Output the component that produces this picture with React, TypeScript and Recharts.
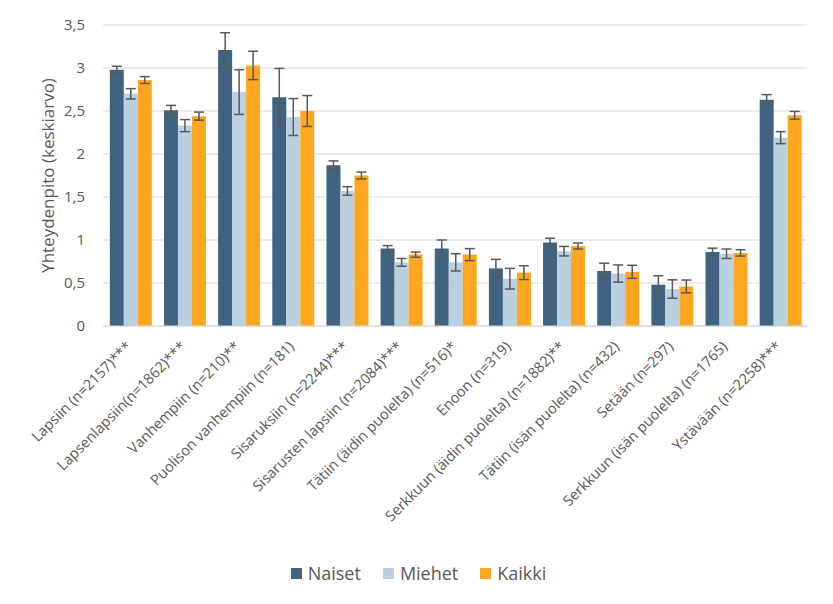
import React from "react";
import {
  Bar,
  BarChart,
  CartesianGrid,
  ErrorBar,
  Legend,
  XAxis,
  YAxis,
} from "recharts";

// Yhteydenpito sukulaisiin ja ystäviin, keskiarvot ja virhepalkit

const categories = [
  "Lapsiin (n=2157)***",
  "Lapsenlapsiin(n=1862)***",
  "Vanhempiin (n=210)**",
  "Puolison vanhempiin (n=181)",
  "Sisaruksiin (n=2244)***",
  "Sisarusten lapsiin (n=2084)***",
  "Tätiin (äidin puolelta)  (n=516)*",
  "Enoon (n=319)",
  "Serkkuun (äidin puolelta) (n=1882)**",
  "Tätiin (isän puolelta) (n=432)",
  "Setään (n=297)",
  "Serkkuun (isän puolelta) (n=1765)",
  "Ystävään (n=2258)***",
];

const naiset = [2.98, 2.51, 3.21, 2.66, 1.87, 0.9, 0.9, 0.67, 0.97, 0.64, 0.48, 0.86, 2.63];
const naisetErr = [0.04, 0.055, 0.2, 0.335, 0.05, 0.035, 0.1, 0.105, 0.05, 0.09, 0.105, 0.045, 0.06];

const miehet = [2.7, 2.33, 2.72, 2.43, 1.57, 0.74, 0.74, 0.55, 0.87, 0.61, 0.43, 0.84, 2.19];
const miehetErr = [0.06, 0.07, 0.26, 0.215, 0.05, 0.045, 0.1, 0.12, 0.055, 0.1, 0.107, 0.055, 0.07];

const kaikki = [2.86, 2.44, 3.03, 2.5, 1.75, 0.83, 0.83, 0.62, 0.93, 0.63, 0.46, 0.85, 2.45];
const kaikkiErr = [0.04, 0.047, 0.165, 0.18, 0.04, 0.03, 0.07, 0.08, 0.035, 0.076, 0.074, 0.037, 0.045];

const yTicks = [0, 0.5, 1, 1.5, 2, 2.5, 3, 3.5];

const series = [
  { key: "naiset", name: "Naiset", color: "#406381" },
  { key: "miehet", name: "Miehet", color: "#b8d0df" },
  { key: "kaikki", name: "Kaikki", color: "#ffa620" },
];

const data = categories.map((label, i) => ({
  label,
  naiset: naiset[i],
  naisetErr: naisetErr[i],
  miehet: miehet[i],
  miehetErr: miehetErr[i],
  kaikki: kaikki[i],
  kaikkiErr: kaikkiErr[i],
}));

const FONT = "'Open Sans', 'DejaVu Sans', sans-serif";
const TEXT = "#595959";

function SlantTick({ x, y, payload }: any) {
  return (
    <g transform={`translate(${x - 1},${y + 10})`}>
      <text
        transform="rotate(-45)"
        textAnchor="end"
        dy="0.35em"
        fill={TEXT}
        fontSize={14.5}
        fontFamily={FONT}
      >
        {payload.value}
      </text>
    </g>
  );
}

function LegendBox() {
  return (
    <div
      style={{
        display: "flex",
        justifyContent: "center",
        gap: 22,
        fontSize: 18,
        fontFamily: FONT,
        color: TEXT,
        lineHeight: "26px",
      }}
    >
      {series.map((s) => (
        <span key={s.key} style={{ display: "flex", alignItems: "center" }}>
          <span
            style={{ width: 11, height: 11, background: s.color, display: "inline-block", marginRight: 6 }}
          />
          {s.name}
        </span>
      ))}
    </div>
  );
}

export default function App() {
  return (
    <div style={{ position: "absolute", left: 0, top: 0, fontFamily: FONT }}>
      <BarChart
        width={833}
        height={604}
        data={data}
        margin={{ top: 25, right: 26, bottom: 18, left: 30 }}
        barGap={0}
        barCategoryGap="12.6%"
      >
        <CartesianGrid vertical={false} stroke="#d9d9d9" strokeWidth={1} />
        <XAxis
          dataKey="label"
          interval={0}
          height={234}
          tickLine={false}
          axisLine={{ stroke: "#d9d9d9", strokeWidth: 1 }}
          tick={<SlantTick />}
        />
        <YAxis
          width={73}
          domain={[0, 3.5]}
          ticks={yTicks}
          axisLine={false}
          tickLine={false}
          tickMargin={12}
          tickFormatter={(v: number) => String(v).replace(".", ",")}
          tick={{ fill: TEXT, fontSize: 15, fontFamily: FONT }}
          label={{
            value: "Yhteydenpito (keskiarvo)",
            angle: -90,
            position: "insideLeft",
            offset: 18,
            style: { textAnchor: "middle", fill: TEXT, fontSize: 17, fontFamily: FONT },
          }}
        />
        <Legend verticalAlign="bottom" content={<LegendBox />} />
        {series.map((s) => (
          <Bar key={s.key} dataKey={s.key} name={s.name} fill={s.color} isAnimationActive={false}>
            <ErrorBar dataKey={`${s.key}Err`} width={5} stroke="#595959" strokeWidth={1.5} />
          </Bar>
        ))}
      </BarChart>
    </div>
  );
}
